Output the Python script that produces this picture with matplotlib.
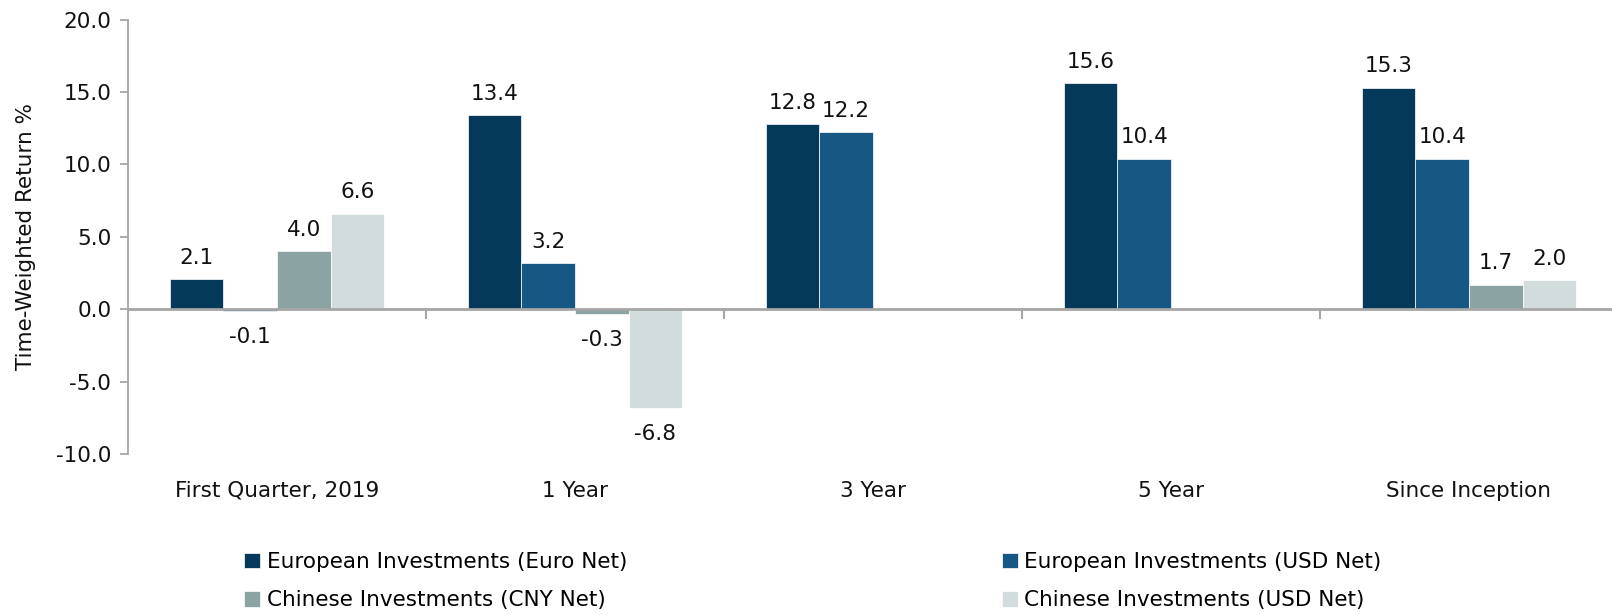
import numpy as np
import matplotlib
matplotlib.use('Agg')
import matplotlib.pyplot as plt
import matplotlib.transforms as mtransforms

plt.rcParams['font.family'] = ['DejaVu Sans']
FS = 15.5

categories = ['First Quarter, 2019', '1 Year', '3 Year', '5 Year', 'Since Inception']
series_names = ['European Investments (Euro Net)', 'European Investments (USD Net)',
                'Chinese Investments (CNY Net)', 'Chinese Investments (USD Net)']
eur_euro = [2.1, 13.4, 12.8, 15.6, 15.3]
eur_usd = [-0.1, 3.2, 12.2, 10.4, 10.4]
chn_cny = [4.0, -0.3, np.nan, np.nan, 1.7]
chn_usd = [6.6, -6.8, np.nan, np.nan, 2.0]
colors = ['#04395A', '#175783', '#8CA3A4', '#D3DCDD']

series = [eur_euro, eur_usd, chn_cny, chn_usd]

fig = plt.figure(figsize=(16.12, 6.15), dpi=100)
ax = fig.add_axes([128 / 1612, 1 - 454 / 615, 1 - 128 / 1612, (454 - 19.5) / 615])

x = np.arange(len(categories))
w = 0.18
bars = []
for k, (vals, col, name) in enumerate(zip(series, colors, series_names)):
    vals = np.array(vals, dtype=float)
    pos = x + (k - 1.5) * w
    b = ax.bar(pos, vals, width=w, color=col, edgecolor='white',
               linewidth=0.5, label=name, zorder=2)
    bars.append(b)
    for xp, v in zip(pos, vals):
        if np.isnan(v):
            continue
        if v >= 0:
            ax.annotate(f'{v:.1f}', (xp, v), xytext=(0, 8), textcoords='offset points',
                        ha='center', va='bottom', fontsize=FS, color='#111111')
        else:
            ax.annotate(f'{v:.1f}', (xp, v), xytext=(0, -12), textcoords='offset points',
                        ha='center', va='top', fontsize=FS, color='#111111')

ax.set_ylim(-10, 20)
ax.set_yticks(np.arange(-10, 20.1, 5))
ax.set_yticklabels([f'{t:.1f}' for t in np.arange(-10, 20.1, 5)])
ax.set_xlim(-0.5, -0.5 + (1612 - 128) / 298)

for s in ['top', 'right']:
    ax.spines[s].set_visible(False)
ax.spines['left'].set_color('#A6A6A6')
ax.spines['left'].set_linewidth(1.3)
ax.spines['bottom'].set_position(('data', 0))
ax.spines['bottom'].set_color('#A6A6A6')
ax.spines['bottom'].set_linewidth(2)
ax.spines['bottom'].set_zorder(3)

ax.tick_params(axis='y', length=6, width=1.3, color='#A6A6A6', labelsize=FS,
               labelcolor='#111111', pad=6)
ax.set_xticks(x)
ax.set_xticklabels([])
ax.tick_params(axis='x', which='major', length=0)
ax.set_xticks(x[:-1] + 0.5, minor=True)
ax.tick_params(axis='x', which='minor', length=7, width=1.5, color='#A6A6A6')

trans = mtransforms.blended_transform_factory(ax.transData, ax.transAxes)
for xi, cat in zip(x, categories):
    ax.text(xi, -0.085, cat, transform=trans, ha='center', va='center',
            fontsize=FS, color='#111111')

ax.set_ylabel('Time-Weighted Return %', fontsize=FS, color='#111111')
ax.yaxis.set_label_coords(-0.062, 0.5)

handles = [bars[0], bars[2], bars[1], bars[3]]
labels = [series_names[0], series_names[2], series_names[1], series_names[3]]
fig.legend(handles, labels, ncol=2, loc='upper left',
           bbox_to_anchor=(244 / 1612, 1 - 552 / 615), frameon=False,
           fontsize=FS, handlelength=0.75, handleheight=0.75,
           handletextpad=0.3, columnspacing=17.4, labelspacing=0.85,
           borderaxespad=0, borderpad=0)

fig.savefig('out.png', dpi=100)
